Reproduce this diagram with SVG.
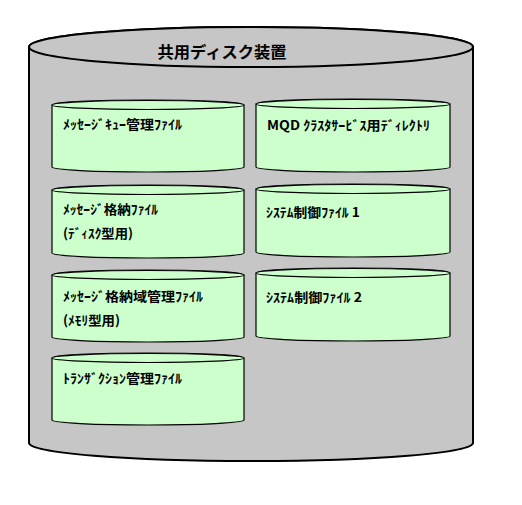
<svg xmlns="http://www.w3.org/2000/svg" width="522" height="505" viewBox="0 0 522 505">
<style>
.outer{fill:#C6C6C6;stroke:#000;stroke-width:2}
.cyl{fill:#CCFFCC;stroke:#000;stroke-width:1.2}
.lbl{font-family:"Noto Sans CJK JP","DejaVu Sans",sans-serif;font-size:13px;font-weight:bold;fill:#000}
.title{font-family:"Noto Sans CJK JP","DejaVu Sans",sans-serif;font-size:16px;font-weight:bold;fill:#000}
</style>
<g id="disk">
<path class="outer" d="M29,47 L29,443 A222,18 0 0 0 473,443 L473,47 A222,20 0 0 0 29,47 Z"/>
<ellipse class="outer" cx="251" cy="47" rx="222" ry="20"/>
<text class="title" x="222" y="58" text-anchor="middle" textLength="129" lengthAdjust="spacingAndGlyphs">共用ディスク装置</text>
</g>
<g id="f1">
<path class="cyl" d="M52,105 L52,167 A96,5 0 0 0 244,167 L244,105 A96,5 0 0 0 52,105 Z"/>
<ellipse class="cyl" cx="148" cy="105" rx="96" ry="4.5"/>
<text class="lbl" x="63" y="129" textLength="119" lengthAdjust="spacingAndGlyphs">ﾒｯｾｰｼﾞｷｭｰ管理ﾌｧｲﾙ</text>
</g>
<g id="f2">
<path class="cyl" d="M256,104 L256,167 A97,5 0 0 0 450,167 L450,104 A97,5 0 0 0 256,104 Z"/>
<ellipse class="cyl" cx="353" cy="104" rx="97" ry="4.5"/>
<text class="lbl" x="267" y="130" textLength="163" lengthAdjust="spacingAndGlyphs">MQD ｸﾗｽﾀｻｰﾋﾞｽ用ﾃﾞｨﾚｸﾄﾘ</text>
</g>
<g id="f3">
<path class="cyl" d="M52,190 L52,253 A96,5 0 0 0 244,253 L244,190 A96,5 0 0 0 52,190 Z"/>
<ellipse class="cyl" cx="148" cy="190" rx="96" ry="4.5"/>
<text class="lbl" x="63" y="214" textLength="95" lengthAdjust="spacingAndGlyphs">ﾒｯｾｰｼﾞ格納ﾌｧｲﾙ</text>
<text class="lbl" x="63" y="238" textLength="70" lengthAdjust="spacingAndGlyphs">(ﾃﾞｨｽｸ型用)</text>
</g>
<g id="f4">
<path class="cyl" d="M256,189 L256,252 A97,5 0 0 0 450,252 L450,189 A97,5 0 0 0 256,189 Z"/>
<ellipse class="cyl" cx="353" cy="189" rx="97" ry="4.5"/>
<text class="lbl" x="266" y="217" textLength="94" lengthAdjust="spacingAndGlyphs">ｼｽﾃﾑ制御ﾌｧｲﾙ 1</text>
</g>
<g id="f5">
<path class="cyl" d="M52,275 L52,337 A96,5 0 0 0 244,337 L244,275 A96,5 0 0 0 52,275 Z"/>
<ellipse class="cyl" cx="148" cy="275" rx="96" ry="4.5"/>
<text class="lbl" x="63" y="301" textLength="140" lengthAdjust="spacingAndGlyphs">ﾒｯｾｰｼﾞ格納域管理ﾌｧｲﾙ</text>
<text class="lbl" x="63" y="325" textLength="57" lengthAdjust="spacingAndGlyphs">(ﾒﾓﾘ型用)</text>
</g>
<g id="f6">
<path class="cyl" d="M256,273 L256,336 A97,5 0 0 0 450,336 L450,273 A97,5 0 0 0 256,273 Z"/>
<ellipse class="cyl" cx="353" cy="273" rx="97" ry="4.5"/>
<text class="lbl" x="266" y="302" textLength="96" lengthAdjust="spacingAndGlyphs">ｼｽﾃﾑ制御ﾌｧｲﾙ 2</text>
</g>
<g id="f7">
<path class="cyl" d="M52,358 L52,420 A96,5 0 0 0 244,420 L244,358 A96,5 0 0 0 52,358 Z"/>
<ellipse class="cyl" cx="148" cy="358" rx="96" ry="4.5"/>
<text class="lbl" x="63" y="383" textLength="119" lengthAdjust="spacingAndGlyphs">ﾄﾗﾝｻﾞｸｼｮﾝ管理ﾌｧｲﾙ</text>
</g>
<g id="connectors"/>
</svg>
